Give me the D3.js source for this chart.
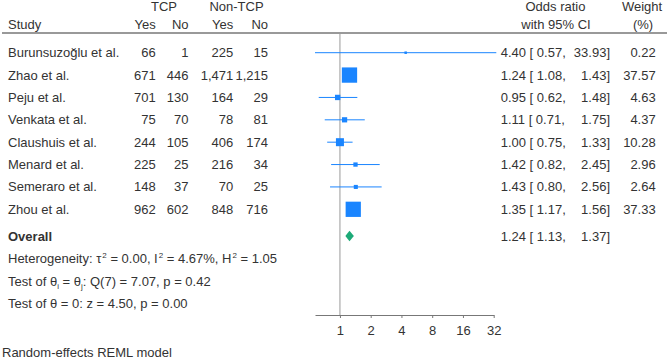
<!DOCTYPE html>
<html>
<head>
<meta charset="utf-8">
<script src="https://cdn.jsdelivr.net/npm/d3@7"></script>
<style>
  body { margin: 0; background: #fff; }
  text { font-family: "Liberation Sans", Arial, sans-serif; font-size: 13px; fill: #333; }
</style>
</head>
<body>
<svg id="chart"></svg>
<script>
let width = 669,
    height = 360,
    svg = d3.select("#chart").attr("width", width).attr("height", height);

// data
const studies = ["Burunsuzoğlu et al.", "Zhao et al.", "Peju et al.", "Venkata et al.",
                 "Claushuis et al.", "Menard et al.", "Semeraro et al.", "Zhou et al."];
const tcpYes = [66, 671, 701, 75, 244, 225, 148, 962];
const tcpNo = [1, 446, 130, 70, 105, 25, 37, 602];
const nonYes = [225, 1471, 164, 78, 406, 216, 70, 848];
const nonNo = [15, 1215, 29, 81, 174, 34, 25, 716];
const oddsRatio = [4.40, 1.24, 0.95, 1.11, 1.00, 1.42, 1.43, 1.35];
const ciLow = [0.57, 1.08, 0.62, 0.71, 0.75, 0.82, 0.80, 1.17];
const ciHigh = [33.93, 1.43, 1.48, 1.75, 1.33, 2.45, 2.56, 1.56];
const weights = [0.22, 37.57, 4.63, 4.37, 10.28, 2.96, 2.64, 37.33];
const overall = {or: 1.24, lo: 1.13, hi: 1.37};
const axisTicks = [1, 2, 4, 8, 16, 32];

const blue = "#1a85ff", green = "#1daa78";
const fmt = d3.format(",");
const f2 = d3.format(".2f");

// scales
let x = d3.scaleLog().base(2).domain([d3.min(ciLow), 32]).range([315, 493.7]);
let y = d3.scaleLinear().domain([0, 7]).range([52.7, 209.3]);
let size = d3.scaleSqrt().domain([0, d3.max(weights)]).range([0, 15.3]);

const yHead = 33, yOverall = 236, yAxis = 315;

// header
function label(xp, yp, txt, anchor) {
    return svg.append("text").attr("x", xp).attr("y", yp).attr("dy", "0.35em")
        .attr("text-anchor", anchor || "start").text(txt);
}
label(164, 6, "TCP", "middle");
label(236.5, 6, "Non-TCP", "middle");
label(8, 24, "Study");
label(155.7, 24, "Yes", "end");
label(188.5, 24, "No", "end");
label(233.3, 24, "Yes", "end");
label(268, 24, "No", "end");
label(555.5, 6, "Odds ratio", "middle");
label(556, 24, "with 95% CI", "middle");
label(642, 6, "Weight", "middle");
label(643, 24, "(%)", "middle");

svg.append("line")
    .attr("x1", 2).attr("x2", 667).attr("y1", yHead).attr("y2", yHead)
    .attr("stroke", "#777").attr("stroke-width", 1.5);

// reference line at OR = 1
svg.append("line")
    .attr("x1", x(1)).attr("x2", x(1)).attr("y1", yHead).attr("y2", yAxis)
    .attr("stroke", "#999").attr("stroke-width", 1);

// study rows
let rows = svg.selectAll(".row").data(studies).enter().append("g").attr("class", "row");

rows.append("text").attr("x", 8).attr("y", (d, i) => y(i)).attr("dy", "0.35em").text(d => d);
const cols = [[155.7, tcpYes], [188.5, tcpNo], [233.3, nonYes], [268, nonNo]];
cols.forEach(c => {
    rows.append("text").attr("x", c[0]).attr("y", (d, i) => y(i)).attr("dy", "0.35em")
        .attr("text-anchor", "end").text((d, i) => fmt(c[1][i]));
});

rows.append("line")
    .attr("x1", (d, i) => x(ciLow[i])).attr("x2", (d, i) => x(ciHigh[i]))
    .attr("y1", (d, i) => y(i)).attr("y2", (d, i) => y(i))
    .attr("stroke", blue).attr("stroke-width", 1);

rows.append("rect")
    .attr("x", (d, i) => x(oddsRatio[i]) - Math.max(size(weights[i]), 2.5) / 2)
    .attr("y", (d, i) => y(i) - Math.max(size(weights[i]), 2.5) / 2)
    .attr("width", (d, i) => Math.max(size(weights[i]), 2.5))
    .attr("height", (d, i) => Math.max(size(weights[i]), 2.5))
    .attr("fill", blue);

rows.append("text").attr("x", 500.7).attr("y", (d, i) => y(i)).attr("dy", "0.35em")
    .attr("xml:space", "preserve")
    .text((d, i) => f2(oddsRatio[i]) + " [ " + f2(ciLow[i]) + ",");
rows.append("text").attr("x", 610).attr("y", (d, i) => y(i)).attr("dy", "0.35em")
    .attr("text-anchor", "end").text((d, i) => f2(ciHigh[i]) + "]");
rows.append("text").attr("x", 655.7).attr("y", (d, i) => y(i)).attr("dy", "0.35em")
    .attr("text-anchor", "end").text((d, i) => f2(weights[i]));

// overall
label(8, yOverall, "Overall").style("font-weight", "bold");
svg.append("path")
    .attr("d", "M" + x(overall.lo) + "," + yOverall +
               "L" + x(overall.or) + "," + (yOverall - 5.2) +
               "L" + x(overall.hi) + "," + yOverall +
               "L" + x(overall.or) + "," + (yOverall + 5.2) + "Z")
    .attr("fill", green);
label(500.7, yOverall, f2(overall.or) + " [ " + f2(overall.lo) + ",").attr("xml:space", "preserve");
label(610, yOverall, f2(overall.hi) + "]", "end");

// statistics (super/subscripts shifted in px so the line stays put)
function sup(t, s) {
    t.append("tspan").attr("dx", "1").attr("dy", "-5px").style("font-size", "8px").text(s);
}
function back(t, s, d) {
    t.append("tspan").attr("dy", d).text(s);
}
let het = label(8, 258.3, "Heterogeneity: τ");
sup(het, "2"); back(het, " = 0.00, I", "5px");
sup(het, "2"); back(het, " = 4.67%, H", "5px");
sup(het, "2"); back(het, " = 1.05", "5px");

let tq = label(8, 281.7, "Test of θ");
tq.append("tspan").attr("dy", "3px").style("font-size", "8px").text("i");
back(tq, " = θ", "-3px");
tq.append("tspan").attr("dy", "3px").style("font-size", "8px").text("j");
back(tq, ": Q(7) = 7.07, p = 0.42", "-3px");

label(8, 303.3, "Test of θ = 0: z = 4.50, p = 0.00");

label(2, 352.5, "Random-effects REML model");

// axis
let axis = svg.append("g")
    .attr("transform", "translate(0," + yAxis + ")")
    .call(d3.axisBottom(x).tickValues(axisTicks).tickFormat(d3.format("d")).tickSize(3).tickSizeOuter(0));
axis.select(".domain").attr("stroke", "#777");
axis.selectAll(".tick line").attr("stroke", "#777");
axis.selectAll(".tick text").attr("fill", "#333").attr("dy", "0.35em").attr("y", 15.7)
    .style("font-size", "13px").style("font-family", "Liberation Sans, Arial, sans-serif");
</script>
</body>
</html>
